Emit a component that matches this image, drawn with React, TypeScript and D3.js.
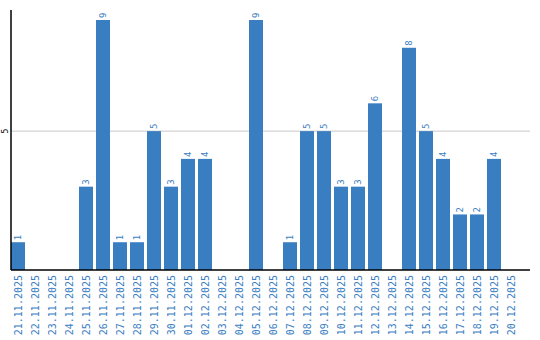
import React from "react";
import * as d3 from "d3";

const dates = [
  "21.11.2025","22.11.2025","23.11.2025","24.11.2025","25.11.2025","26.11.2025",
  "27.11.2025","28.11.2025","29.11.2025","30.11.2025","01.12.2025","02.12.2025",
  "03.12.2025","04.12.2025","05.12.2025","06.12.2025","07.12.2025","08.12.2025",
  "09.12.2025","10.12.2025","11.12.2025","12.12.2025","13.12.2025","14.12.2025",
  "15.12.2025","16.12.2025","17.12.2025","18.12.2025","19.12.2025","20.12.2025",
];
const counts = [1,0,0,0,3,9,1,1,5,3,4,4,0,0,9,0,1,5,5,3,3,6,0,8,5,4,2,2,4,0];
const yTicks = [5];

const W = 540, H = 340;
const left = 11, bottom = 270, top = 10, right = 530;
const color = "#3a7ec2";
const font = "'DejaVu Sans Mono', monospace";

export default function App() {
  const x = d3.scaleBand<string>().domain(dates).range([left, left + 17 * dates.length - 3]).paddingInner(3 / 17).paddingOuter(0);
  const y = d3.scaleLinear().domain([0, 9]).range([bottom, 20]);
  return (
    <svg width={W} height={H} style={{ position: "absolute", left: 0, top: 0 }}>
      {yTicks.map((t) => (
        <g key={t}>
          <line x1={left} x2={right} y1={y(t)} y2={y(t)} stroke="#c8c8c8" strokeWidth={1} />
          <text transform={`translate(8,${y(t)}) rotate(-90)`} textAnchor="middle" fontSize={8} fontFamily={font} fill="#000">{t}</text>
        </g>
      ))}
      {dates.map((d, i) => {
        const v = counts[i];
        const bx = x(d)!;
        const bw = x.bandwidth();
        return (
          <g key={d}>
            {v > 0 && <rect x={bx} y={y(v)} width={bw} height={bottom - y(v)} fill={color} />}
            {v > 0 && (
              <text transform={`translate(${bx + bw / 2 + 3},${y(v) - 2}) rotate(-90)`} textAnchor="start" fontSize={9} fontFamily={font} fill={color}>{v}</text>
            )}
            <text transform={`translate(${bx + bw / 2 + 4},${bottom + 5}) rotate(-90)`} textAnchor="end" fontSize={10} fontFamily={font} fill={color}>{d}</text>
          </g>
        );
      })}
      <line x1={left} x2={left} y1={top} y2={bottom} stroke="#000" strokeWidth={1.5} />
      <line x1={left} x2={right} y1={bottom} y2={bottom} stroke="#000" strokeWidth={1.5} />
    </svg>
  );
}
